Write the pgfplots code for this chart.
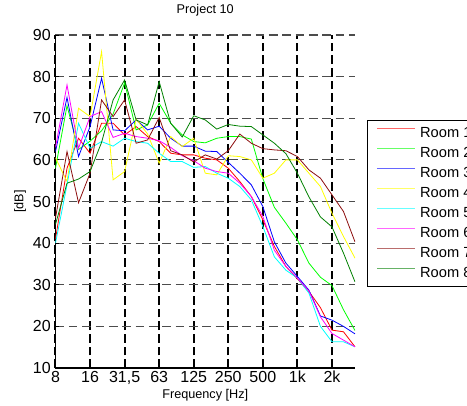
\documentclass[border=0pt]{standalone}
\usepackage{fontspec}
\setmainfont{Liberation Sans}
\usepackage{pgfplots}
\pgfplotsset{compat=1.18}
\usepackage{pgfplotstable}

\definecolor{cA}{rgb}{1,0,0}
\definecolor{cB}{rgb}{0,1,0}
\definecolor{cC}{rgb}{0,0,1}
\definecolor{cD}{rgb}{1,1,0}
\definecolor{cE}{rgb}{0,1,1}
\definecolor{cF}{rgb}{1,0,1}
\definecolor{cG}{rgb}{0.55,0.05,0.05}
\definecolor{cH}{rgb}{0,0.5,0}

\pgfplotstableread{
i  r1   r2   r3   r4   r5   r6   r7   r8
0  41.0 58.0 62.0 60.5 40.0 63.0 46.0 44.5
1  58.0 73.0 75.0 54.8 54.0 78.0 62.0 54.4
2  65.2 62.5 60.8 72.4 68.8 62.8 49.7 55.4
3  61.6 64.5 68.0 70.4 62.8 70.4 56.8 57.2
4  68.8 67.0 79.6 86.0 64.4 71.6 74.4 64.2
5  68.8 71.0 67.2 55.2 63.3 65.4 70.4 74.4
6  66.0 78.5 67.0 57.2 65.2 66.4 74.4 79.2
7  68.0 67.2 69.6 69.8 64.4 65.6 64.0 69.6
8  65.6 68.4 67.2 66.2 64.0 65.2 64.8 68.4
9  64.4 73.6 68.1 59.2 61.6 64.6 70.2 78.8
10 61.6 68.8 65.2 65.6 59.6 63.0 62.2 68.8
11 61.2 66.0 63.3 63.2 59.6 61.0 61.2 65.5
12 61.2 64.4 63.3 65.2 58.2 59.8 59.5 70.6
13 60.4 64.1 62.1 56.8 58.4 58.0 61.2 69.6
14 60.0 65.2 62.0 56.4 56.8 57.2 60.2 67.4
15 58.0 65.6 59.4 61.0 55.6 56.8 62.2 68.5
16 54.8 65.6 56.8 60.8 53.6 54.4 66.2 68.1
17 51.2 65.0 54.0 60.0 50.4 51.2 64.0 68.0
18 45.6 55.5 48.8 55.6 44.0 46.4 62.7 66.0
19 39.2 48.6 40.3 56.8 36.7 38.3 62.4 64.0
20 34.4 44.8 35.2 60.0 33.5 34.4 62.2 61.5
21 31.4 40.8 32.0 60.0 31.6 31.6 60.8 56.8
22 28.4 35.2 28.7 56.8 28.0 28.5 57.6 51.1
23 24.5 31.8 22.5 53.6 20.0 22.3 55.6 46.3
24 19.1 29.8 21.5 47.2 16.3 18.3 51.6 43.9
25 18.7 24.0 20.0 41.6 16.3 16.7 47.6 37.6
26 15.1 19.0 18.2 36.4 15.1 15.1 40.3 30.7
}\data

\begin{document}
\begin{tikzpicture}
\begin{axis}[
  at={(0pt,0pt)}, anchor=south west,
  scale only axis, width=224.625pt, height=249.75pt,
  xmin=0, xmax=26, ymin=10, ymax=90,
  axis lines*=left,
  axis line style={black, line width=0.8pt},
  xtick={0,3,...,24},
  xticklabels={8,16,{31,5},63,125,250,500,1k,2k},
  ytick={10,20,...,90},
  grid=major,
  x grid style={black, line width=1.5pt, dash pattern=on 6.5pt off 3pt},
  y grid style={black!70, line width=0.9pt, dash pattern=on 6.5pt off 3.5pt},
  tick align=inside, major tick length=3pt,
  tick style={black, line width=0.6pt},
  ticklabel style={font=\fontsize{12}{14}\selectfont},
  xticklabel style={yshift=1pt},
  /pgf/number format/assume math mode=true,
  title={Project 10},
  title style={font=\fontsize{9.5}{11}\selectfont, at={(axis description cs:0.5,1.04)}, anchor=base, inner sep=0pt},
  xlabel={Frequency [Hz]},
  xlabel style={font=\fontsize{9.5}{11}\selectfont, at={(axis description cs:0.5,-0.093)}, anchor=base, inner sep=0pt},
  ylabel={[dB]},
  ylabel style={font=\fontsize{9.5}{11}\selectfont, at={(axis description cs:-0.118,0.5)}, anchor=center, inner sep=0pt},
  legend style={at={(axis description cs:1.0401,0.7447)}, anchor=north west,
    draw=black, line width=0.9pt, fill=white,
    font=\fontsize{11}{13}\selectfont,
    inner xsep=6.5pt, inner ysep=4.6pt, row sep=4.7pt,
    nodes={inner sep=0pt, text height=8pt, text depth=2.3pt},
    /tikz/every odd column/.append style={column sep=3pt}},
  legend cell align=left,
  legend image code/.code={\draw[#1, line width=1.4pt, draw opacity=0.6] (0pt,3.8pt) -- (28.5pt,3.8pt);},
]
\addplot[draw=cA, line width=0.6pt] table[x=i, y=r1] {\data};
\addlegendentry{Room 1}
\addplot[draw=cB, line width=0.6pt] table[x=i, y=r2] {\data};
\addlegendentry{Room 2}
\addplot[draw=cC, line width=0.6pt] table[x=i, y=r3] {\data};
\addlegendentry{Room 3}
\addplot[draw=cD, line width=0.6pt] table[x=i, y=r4] {\data};
\addlegendentry{Room 4}
\addplot[draw=cE, line width=0.6pt] table[x=i, y=r5] {\data};
\addlegendentry{Room 5}
\addplot[draw=cF, line width=0.6pt] table[x=i, y=r6] {\data};
\addlegendentry{Room 6}
\addplot[draw=cG, line width=0.6pt] table[x=i, y=r7] {\data};
\addlegendentry{Room 7}
\addplot[draw=cH, line width=0.6pt] table[x=i, y=r8] {\data};
\addlegendentry{Room 8}
\end{axis}
\pgfresetboundingbox
\useasboundingbox (-41.625pt,-27.75pt) rectangle (308.625pt,276pt);
\end{tikzpicture}
\end{document}
